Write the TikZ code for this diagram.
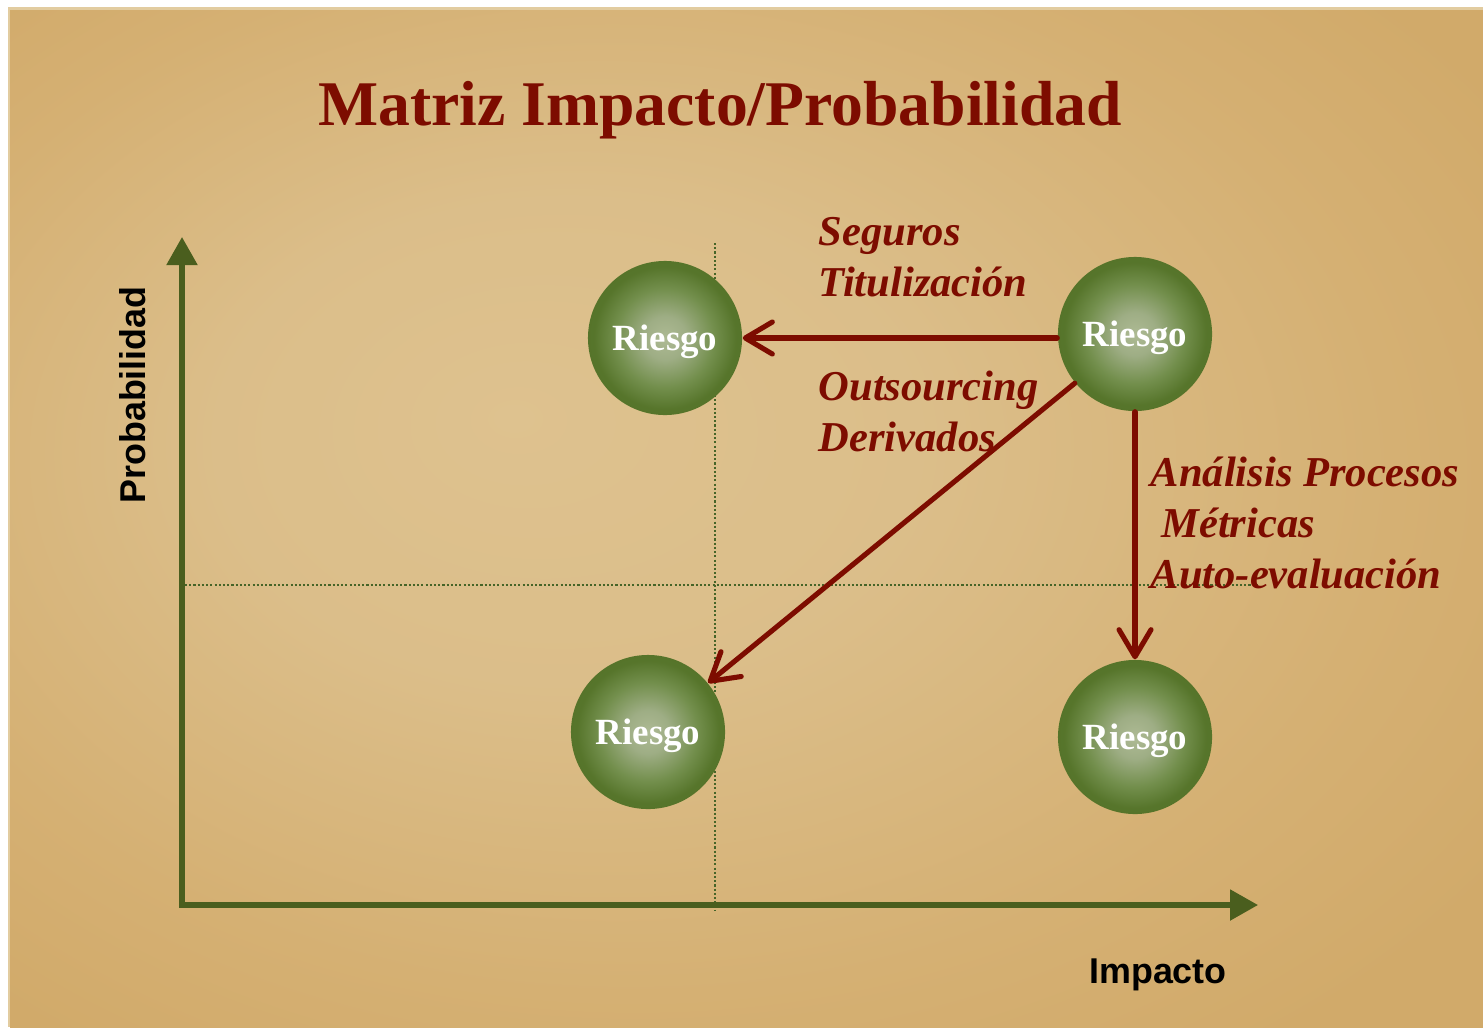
\documentclass[tikz,border=0pt]{standalone}
\usepackage{fontspec}
\setmainfont{Liberation Serif}
\newfontfamily\axisfont{Liberation Sans}
\usetikzlibrary{arrows.meta}

\definecolor{bgedge}{RGB}{226,204,160}
\definecolor{riskred}{RGB}{125,12,0}
\definecolor{axisgreen}{RGB}{74,94,30}
\definecolor{guidegreen}{RGB}{70,100,40}

\pgfdeclareradialshading{bgglow}{\pgfpoint{-8bp}{5bp}}{rgb(0bp)=(0.87,0.76,0.56); rgb(12bp)=(0.86,0.745,0.54); rgb(26bp)=(0.835,0.69,0.45); rgb(34bp)=(0.82,0.667,0.416); rgb(50bp)=(0.82,0.667,0.416)}
\pgfdeclareradialshading{ballglow}{\pgfpoint{0bp}{0bp}}{rgb(0bp)=(0.68,0.73,0.58); rgb(7bp)=(0.62,0.68,0.52); rgb(16bp)=(0.45,0.56,0.30); rgb(23bp)=(0.34,0.46,0.17); rgb(35bp)=(0.31,0.43,0.14); rgb(50bp)=(0.31,0.43,0.14)}

\tikzset{
	riskball/.style={circle, minimum size=1.54cm, inner sep=0pt, text depth=0pt, shade, shading=ballglow, text=white, font=\fontsize{10.5}{12}\selectfont\bfseries},
	riskarrow/.style={draw=riskred, line width=1.45pt, line cap=round, -{Straight Barb[length=0.27cm, width=0.32cm, round]}},
	axisline/.style={draw=axisgreen, line width=1.5pt, {Triangle[length=0.28cm, width=0.30cm]}-{Triangle[length=0.28cm, width=0.30cm]}},
	guideline/.style={draw=guidegreen, line width=0.6pt, dash pattern=on 0.6pt off 0.6pt},
	measure/.style={text=riskred, font=\fontsize{12.1}{14.5}\selectfont\bfseries\itshape, align=left, inner sep=0pt, anchor=west},
	axislabel/.style={font=\axisfont\fontsize{10.2}{12}\selectfont\bfseries, inner sep=0pt}
}

\begin{document}
\begin{tikzpicture}[x=0.01cm, y=-0.01cm]
	
	% Background
	\useasboundingbox (0,0) rectangle (1483,1027);
	\fill[white] (0,0) rectangle (1483,1027);
	\fill[bgedge] (8,7) rectangle (1483,1027);
	\shade[shading=bgglow] (10,10) rectangle (1483,1027);
	
	% Title
	\node[anchor=base, text=riskred, font=\fontsize{18.1}{22}\selectfont\bfseries] (title) at (720,125) {Matriz Impacto/Probabilidad};
	
	% Draw guide lines
	\draw[guideline] (715,243) -- (715,910);
	\draw[guideline] (185,585) -- (1258,585);
	
	% Draw axes
	\coordinate (origin) at (182,905);
	\coordinate (ytop) at (182,237);
	\coordinate (xend) at (1258,905);
	\draw[axisline] (ytop) -- (origin) -- (xend);
	
	% Label axes
	\node[axislabel, rotate=90] (problabel) at (133,395) {Probabilidad};
	\node[axislabel, anchor=base] (implabel) at (1158,983) {Impacto};
	
	% Risks
	\node[riskball] (riskTL) at (665,338) {Riesgo};
	\node[riskball] (riskTR) at (1135,334) {Riesgo};
	\node[riskball] (riskBL) at (648,732) {Riesgo};
	\node[riskball] (riskBR) at (1135,737) {Riesgo};
	
	% Treatments
	\draw[riskarrow] (riskTR.west |- riskTL.east) -- (riskTL.east);
	\draw[riskarrow] (riskTR) -- (riskBL);
	\draw[riskarrow] (riskTR.south) -- (riskBR.north);
	
	% Label treatments
	\node[measure] (transfer) at (818,257) {Seguros\\Titulización};
	\node[measure] (share) at (818,411) {Outsourcing\\Derivados};
	\node[measure] (control) at (1150,523) {Análisis Procesos\\\ Métricas\\Auto-evaluación};
	
\end{tikzpicture}
\end{document}
